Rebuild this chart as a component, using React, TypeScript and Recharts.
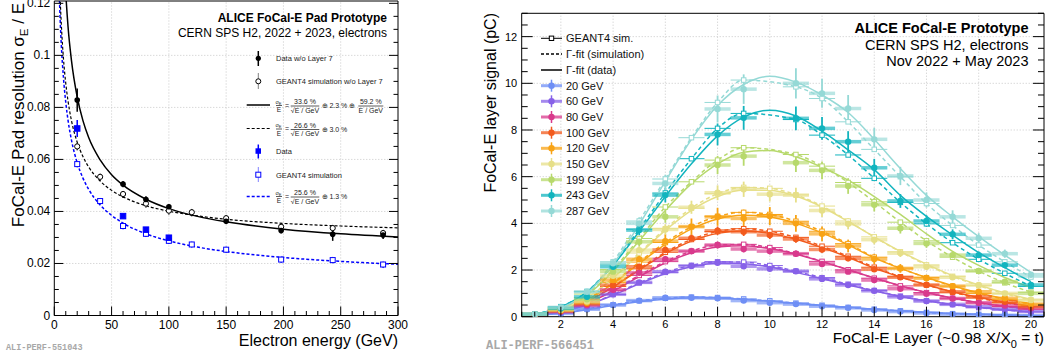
import React from "react";
import { ComposedChart, Line, Scatter, XAxis, YAxis, ErrorBar, ReferenceLine } from "recharts";

// ---------- left panel: energy resolution ----------
const resDataNoL7E = [20, 60, 80, 100, 150, 198, 243, 287];
const resDataNoL7 = [0.0828, 0.0505, 0.0446, 0.0418, 0.0362, 0.0327, 0.0312, 0.0309];
const resDataNoL7Err = [0.0045, 0.0012, 0.0012, 0.001, 0.001, 0.0012, 0.0025, 0.0015];
const resSimNoL7E = [20, 40, 60, 80, 100, 120, 150, 198, 243, 287];
const resSimNoL7 = [0.065, 0.0533, 0.0467, 0.043, 0.0403, 0.0397, 0.0374, 0.0341, 0.0336, 0.0317];
const resDataE = [20, 60, 80, 100];
const resData = [0.0719, 0.0382, 0.033, 0.0299];
const resDataErr = [0.0033, 0.0008, 0.0008, 0.0008];
const resSimE = [20, 40, 60, 80, 100, 120, 150, 198, 243, 287];
const resSim = [0.0582, 0.044, 0.0344, 0.0314, 0.0287, 0.0273, 0.0253, 0.0215, 0.0213, 0.0196];

// fit curves
const fitE = [4, 5, 6, 8, 10, 12, 15, 20, 25, 30, 40, 50, 60, 80, 100, 125, 150, 200, 250, 300];
const fitDataNoL7 = [0.225, 0.193, 0.171, 0.142, 0.124, 0.111, 0.098, 0.084, 0.0749, 0.0684, 0.0598, 0.0541, 0.0501, 0.0447, 0.0411, 0.0381, 0.036, 0.0332, 0.0314, 0.0302];
const fitSimNoL7 = [0.136, 0.123, 0.113, 0.0987, 0.0893, 0.0824, 0.0749, 0.0666, 0.0611, 0.0571, 0.0517, 0.0481, 0.0456, 0.0422, 0.0401, 0.0383, 0.037, 0.0354, 0.0344, 0.0337];
const fitSim = [0.129, 0.115, 0.105, 0.0914, 0.082, 0.075, 0.0674, 0.0587, 0.0528, 0.0485, 0.0425, 0.0385, 0.0355, 0.0314, 0.0287, 0.0263, 0.0246, 0.0223, 0.0208, 0.0197];

const resXMajor = [0, 50, 100, 150, 200, 250, 300];
const resYMajor = [0, 0.02, 0.04, 0.06, 0.08, 0.1, 0.12];

// ---------- right panel: longitudinal profiles ----------
const LAYERS = [1, 2, 3, 4, 5, 6, 7, 8, 9, 10, 11, 12, 13, 14, 15, 16, 17, 18, 19, 20];
const ENERGIES = [20, 60, 80, 100, 120, 150, 199, 243, 287];
const COLORS = ["#6f8ff5", "#8761e8", "#d8398c", "#f25a1c", "#f8a315", "#e6df88", "#b7d96c", "#12b4be", "#95d9d6"];
// relative vertical error per energy
const ERR_REL = [0.05, 0.05, 0.05, 0.05, 0.09, 0.06, 0.06, 0.06, 0.065];

const sig20 = [0.07, 0.14, 0.32, 0.5, 0.69, 0.81, 0.81, 0.79, 0.69, 0.6, 0.54, 0.45, 0.38, 0.29, 0.22, 0.16, 0.11, 0.08, 0.06, 0.04];
const fit20 = [0.06, 0.15, 0.3, 0.48, 0.64, 0.75, 0.8, 0.8, 0.74, 0.67, 0.58, 0.49, 0.4, 0.32, 0.25, 0.19, 0.14, 0.1, 0.07, 0.05];
const sim20 = [0.07, 0.16, 0.33, 0.51, 0.68, 0.79, 0.84, 0.82, 0.76, 0.68, 0.58, 0.49, 0.4, 0.32, 0.25, 0.18, 0.13, 0.1, 0.07, 0.05];

const sig60 = [0.08, 0.2, 0.45, 0.96, 1.47, 1.93, 2.17, 2.31, 2.16, 2.05, 1.95, 1.62, 1.36, 1.11, 0.85, 0.67, 0.53, 0.43, 0.33, 0.22];
const fit60 = [0.07, 0.22, 0.5, 0.92, 1.41, 1.84, 2.14, 2.29, 2.27, 2.13, 1.9, 1.63, 1.36, 1.1, 0.87, 0.68, 0.52, 0.39, 0.29, 0.21];
const sim60 = [0.08, 0.23, 0.52, 0.95, 1.45, 1.9, 2.2, 2.35, 2.34, 2.19, 1.95, 1.67, 1.39, 1.12, 0.88, 0.68, 0.52, 0.39, 0.29, 0.21];

const sig80 = [0.08, 0.22, 0.5, 1.15, 1.88, 2.46, 2.81, 3.07, 2.9, 2.81, 2.7, 2.26, 1.93, 1.57, 1.2, 0.98, 0.78, 0.6, 0.48, 0.36];
const fit80 = [0.07, 0.24, 0.58, 1.1, 1.72, 2.3, 2.74, 2.99, 3.04, 2.92, 2.68, 2.36, 2.01, 1.66, 1.33, 1.04, 0.8, 0.6, 0.45, 0.33];
const sim80 = [0.08, 0.25, 0.6, 1.13, 1.77, 2.36, 2.81, 3.07, 3.1, 2.96, 2.7, 2.37, 2.01, 1.65, 1.32, 1.03, 0.79, 0.59, 0.44, 0.32];

const sig100 = [0.09, 0.25, 0.55, 1.35, 2.14, 2.86, 3.36, 3.68, 3.64, 3.5, 3.33, 2.88, 2.5, 2.03, 1.69, 1.36, 1.07, 0.86, 0.64, 0.43];
const fit100 = [0.08, 0.27, 0.65, 1.27, 2.0, 2.7, 3.24, 3.57, 3.67, 3.57, 3.32, 2.96, 2.55, 2.08, 1.7, 1.37, 1.07, 0.83, 0.62, 0.45];
const sim100 = [0.09, 0.28, 0.67, 1.3, 2.05, 2.76, 3.31, 3.65, 3.77, 3.66, 3.4, 3.02, 2.59, 2.12, 1.71, 1.36, 1.05, 0.8, 0.6, 0.43];

const sig120 = [0.09, 0.27, 0.6, 1.57, 2.46, 3.24, 3.86, 4.28, 4.21, 4.31, 4.0, 3.55, 3.03, 2.47, 2.07, 1.65, 1.31, 1.07, 0.79, 0.54];
const fit120 = [0.08, 0.3, 0.72, 1.42, 2.28, 3.1, 3.76, 4.19, 4.35, 4.27, 4.0, 3.59, 3.08, 2.52, 2.07, 1.68, 1.33, 1.02, 0.77, 0.56];
const sim120 = [0.09, 0.31, 0.74, 1.46, 2.34, 3.18, 3.85, 4.3, 4.47, 4.38, 4.09, 3.66, 3.13, 2.55, 2.08, 1.67, 1.31, 1.0, 0.75, 0.54];

const sig150 = [0.1, 0.3, 0.65, 1.75, 2.85, 3.74, 4.69, 5.31, 5.46, 5.25, 5.21, 4.55, 3.98, 3.3, 2.72, 2.14, 1.69, 1.36, 1.0, 0.71];
const fit150 = [0.09, 0.33, 0.8, 1.65, 2.68, 3.7, 4.56, 5.15, 5.43, 5.42, 5.17, 4.7, 4.08, 3.42, 2.8, 2.25, 1.76, 1.36, 1.02, 0.75];
const sim150 = [0.1, 0.34, 0.82, 1.68, 2.73, 3.77, 4.65, 5.27, 5.54, 5.5, 5.22, 4.74, 4.1, 3.42, 2.78, 2.22, 1.73, 1.33, 0.99, 0.72];

const sig199 = [0.1, 0.33, 0.75, 1.93, 3.21, 4.28, null, 6.5, 6.88, null, 6.6, 6.27, 5.6, 4.8, 3.79, 3.14, 2.64, 1.96, 1.5, 1.0];
const fit199 = [0.1, 0.37, 0.93, 1.95, 3.25, 4.55, 5.7, 6.55, 7.05, 7.12, 6.85, 6.4, 5.85, 5.15, 4.38, 3.55, 2.8, 2.2, 1.68, 1.25];
const sim199 = [0.11, 0.38, 0.97, 2.02, 3.35, 4.7, 5.78, 6.71, 7.24, null, 6.95, 6.45, 5.75, 4.92, 4.05, 3.25, 2.55, 1.95, 1.45, 1.05];

const sig243 = [0.11, 0.36, 0.85, 2.14, 3.71, 5.21, null, 7.81, 8.52, null, 8.5, 8.07, 7.5, 6.38, 4.96, 4.1, 3.53, 2.64, 2.21, 1.36];
const fit243 = [0.1, 0.42, 1.05, 2.2, 3.65, 5.15, 6.55, 7.75, 8.55, 8.85, 8.6, 7.95, 7.15, 6.3, 5.2, 4.3, 3.5, 2.75, 2.1, 1.5];
const sim243 = [0.11, 0.43, 1.08, 2.25, 3.75, 5.3, 6.77, 8.07, 8.71, null, 8.45, 7.78, 6.93, 5.93, 4.9, 3.98, 3.17, 2.46, 1.86, 1.3];

const sig287 = [0.11, 0.4, 1.07, 2.29, 4.0, 5.71, null, 8.9, 9.75, null, 10.0, 9.57, 8.92, 7.6, 6.03, 5.0, 4.28, 3.36, 2.7, 1.8];
const fit287 = [0.1, 0.38, 1.0, 2.25, 3.95, 5.8, 7.6, 9.05, 9.95, 10.3, 10.05, 9.5, 8.75, 7.6, 6.35, 5.2, 4.28, 3.43, 2.64, 1.9];
const sim287 = [0.11, 0.4, 1.05, 2.35, 4.1, 5.9, 7.67, 9.18, 10.14, null, 9.85, 9.35, 8.35, 7.17, 6.0, 4.85, 3.91, 3.07, 2.35, 1.7];

const SIG = [sig20, sig60, sig80, sig100, sig120, sig150, sig199, sig243, sig287];
const FIT = [fit20, fit60, fit80, fit100, fit120, fit150, fit199, fit243, fit287];
const SIM = [sim20, sim60, sim80, sim100, sim120, sim150, sim199, sim243, sim287];

const layerXMajor = [2, 4, 6, 8, 10, 12, 14, 16, 18, 20];
const layerYMajor = [0, 2, 4, 6, 8, 10, 12];

const FONT = "'Liberation Sans', Arial, Helvetica, sans-serif";

// minor tick positions between major ones
function withMinor(lo: number, hi: number, step: number) {
  const out: number[] = [];
  const n = Math.round((hi - lo) / step);
  for (let i = 0; i <= n; i++) out.push(+(lo + i * step).toFixed(4));
  return out;
}

type TickOpts = {
  side: "bottom" | "top" | "left" | "right";
  major: number[];
  len: number;
  minor: number;
  font?: number;
  fmt?: (v: number) => string;
  dx?: number;
  dy?: number;
};

const mkTick = (o: TickOpts) => (props: any) => {
  const { x, y, payload } = props;
  const v = payload.value as number;
  const isMajor = o.major.some((m) => Math.abs(m - v) < 1e-6);
  const L = isMajor ? o.len : o.minor;
  let x2 = x;
  let y2 = y;
  if (o.side === "bottom") y2 = y - L;
  else if (o.side === "top") y2 = y + L;
  else if (o.side === "left") x2 = x + L;
  else x2 = x - L;
  return (
    <g>
      <line x1={x} y1={y} x2={x2} y2={y2} stroke="#000" strokeWidth={1} />
      {isMajor && o.fmt ? (
        <text
          x={x + (o.dx ?? 0)}
          y={y + (o.dy ?? 0)}
          textAnchor={o.side === "left" ? "end" : "middle"}
          fontSize={o.font}
          fill="#000"
        >
          {o.fmt(v)}
        </text>
      ) : null}
    </g>
  );
};

const fmtRes = (v: number) => (v === 0 ? "0" : String(parseFloat(v.toFixed(3))));
const fmtInt = (v: number) => String(v);

const dot = (r: number, fill: string) => (p: any) => <circle cx={p.cx} cy={p.cy} r={r} fill={fill} />;
const ring = (r: number, stroke: string) => (p: any) => (
  <circle cx={p.cx} cy={p.cy} r={r} fill="#fff" stroke={stroke} strokeWidth={1} />
);
const box = (s: number, fill: string, stroke: string) => (p: any) => (
  <rect x={p.cx - s / 2} y={p.cy - s / 2} width={s} height={s} fill={fill} stroke={stroke} strokeWidth={1} />
);

function pts(xs: number[], ys: (number | null)[], ex = 0, ey: number[] | number = 0) {
  return xs.flatMap((x, i) =>
    ys[i] == null ? [] : [{ x, y: ys[i] as number, ex, ey: Array.isArray(ey) ? ey[i] : ey }]
  );
}

// data points with error bars scaled by the relative error
function profilePts(ys: (number | null)[], rel: number) {
  return LAYERS.flatMap((x, i) =>
    ys[i] == null ? [] : [{ x, y: ys[i] as number, ex: 0.5, ey: (ys[i] as number) * rel }]
  );
}

function ResolutionChart() {
  const xTicks = withMinor(0, 300, 10);
  const yTicks = withMinor(0, 0.12, 0.005);
  const xs = { type: "number" as const, domain: [0, 300], allowDataOverflow: true, ticks: xTicks, interval: 0 as const, tickSize: 0, tickMargin: 0, axisLine: { stroke: "#000" } };
  const ys = { type: "number" as const, domain: [0, 0.1209], allowDataOverflow: true, ticks: yTicks, interval: 0 as const, tickSize: 0, tickMargin: 0, axisLine: { stroke: "#000" } };
  return (
    <ComposedChart width={420} height={362} margin={{ top: 0, right: 21, bottom: 45.5, left: 53.3 }}>
      <XAxis {...xs} dataKey="x" height={1} tick={mkTick({ side: "bottom", major: resXMajor, len: 9, minor: 4.5, font: 12, fmt: fmtInt, dy: 13 })} />
      <XAxis {...xs} xAxisId="top" orientation="top" height={1} tick={mkTick({ side: "top", major: resXMajor, len: 9, minor: 4.5 })} />
      <YAxis {...ys} dataKey="y" width={1} tick={mkTick({ side: "left", major: resYMajor, len: 9, minor: 4.5, font: 12, fmt: fmtRes, dx: -4, dy: 4 })} />
      <YAxis {...ys} yAxisId="right" orientation="right" width={1} tick={mkTick({ side: "right", major: resYMajor, len: 9, minor: 4.5 })} />
      {resXMajor.slice(1, -1).map((v) => (
        <ReferenceLine key={"gx" + v} x={v} stroke="#c8c8c8" strokeDasharray="1 2" />
      ))}
      {resYMajor.slice(1, -1).map((v) => (
        <ReferenceLine key={"gy" + v} y={v} stroke="#c8c8c8" strokeDasharray="1 2" />
      ))}
      <Line data={pts(fitE, fitSim)} dataKey="y" type="monotone" stroke="#0000ff" strokeWidth={1.5} strokeDasharray="3 2" dot={false} isAnimationActive={false} />
      <Line data={pts(fitE, fitSimNoL7)} dataKey="y" type="monotone" stroke="#000" strokeWidth={1.2} strokeDasharray="3 2" dot={false} isAnimationActive={false} />
      <Line data={pts(fitE, fitDataNoL7)} dataKey="y" type="monotone" stroke="#000" strokeWidth={1.5} dot={false} isAnimationActive={false} />
      <Scatter data={pts(resSimE, resSim, 0, 0.0012)} shape={box(5, "#fff", "#0000ff")} isAnimationActive={false}>
        <ErrorBar dataKey="ey" direction="y" width={0} stroke="#0000ff" strokeDasharray="1 1" isAnimationActive={false} />
      </Scatter>
      <Scatter data={pts(resDataE, resData, 0, resDataErr)} shape={box(5.5, "#0000ff", "#0000ff")} isAnimationActive={false}>
        <ErrorBar dataKey="ey" direction="y" width={0} stroke="#0000ff" strokeWidth={1.5} isAnimationActive={false} />
      </Scatter>
      <Scatter data={pts(resSimNoL7E, resSimNoL7, 0, 0.0015)} shape={ring(2.6, "#000")} isAnimationActive={false}>
        <ErrorBar dataKey="ey" direction="y" width={0} stroke="#000" strokeDasharray="1 1" isAnimationActive={false} />
      </Scatter>
      <Scatter data={pts(resDataNoL7E, resDataNoL7, 0, resDataNoL7Err)} shape={dot(2.8, "#000")} isAnimationActive={false}>
        <ErrorBar dataKey="ey" direction="y" width={0} stroke="#000" strokeWidth={1.5} isAnimationActive={false} />
      </Scatter>
    </ComposedChart>
  );
}

function ProfileChart() {
  const xTicks = withMinor(0.5, 20.5, 0.5);
  const yTicks = withMinor(0, 13, 0.5);
  const xs = { type: "number" as const, domain: [0.5, 20.5], allowDataOverflow: true, ticks: xTicks, interval: 0 as const, tickSize: 0, tickMargin: 0, axisLine: { stroke: "#000" } };
  const ys = { type: "number" as const, domain: [0, 13], allowDataOverflow: true, ticks: yTicks, interval: 0 as const, tickSize: 0, tickMargin: 0, axisLine: { stroke: "#000" } };
  return (
    <ComposedChart width={566} height={362} margin={{ top: 12.3, right: 1, bottom: 44.3, left: 40.7 }}>
      <XAxis {...xs} dataKey="x" height={1} tick={mkTick({ side: "bottom", major: layerXMajor, len: 10, minor: 5, font: 11, fmt: fmtInt, dy: 11.5 })} />
      <XAxis {...xs} xAxisId="top" orientation="top" height={1} tick={mkTick({ side: "top", major: layerXMajor, len: 10, minor: 5 })} />
      <YAxis {...ys} dataKey="y" width={1} tick={mkTick({ side: "left", major: layerYMajor, len: 11, minor: 6, font: 11, fmt: fmtInt, dx: -4.5, dy: 4 })} />
      <YAxis {...ys} yAxisId="right" orientation="right" width={1} tick={mkTick({ side: "right", major: layerYMajor, len: 11, minor: 6 })} />
      {layerXMajor.slice(0, -1).map((v) => (
        <ReferenceLine key={"gx" + v} x={v} stroke="#c8c8c8" strokeDasharray="1 2" />
      ))}
      {layerYMajor.slice(1).map((v) => (
        <ReferenceLine key={"gy" + v} y={v} stroke="#c8c8c8" strokeDasharray="1 2" />
      ))}
      {ENERGIES.map((e, k) => (
        <Scatter key={"sim" + e} data={pts(LAYERS, SIM[k], 0.5)} shape={box(4.5, "#fff", COLORS[k])} isAnimationActive={false}>
          <ErrorBar dataKey="ex" direction="x" width={0} stroke={COLORS[k]} strokeWidth={1} isAnimationActive={false} />
        </Scatter>
      ))}
      {ENERGIES.map((e, k) => (
        <Line key={"ls" + e} data={pts(LAYERS, SIM[k])} dataKey="y" type="monotone" connectNulls stroke={COLORS[k]} strokeWidth={1.5} strokeDasharray="4 3" dot={false} isAnimationActive={false} />
      ))}
      {ENERGIES.map((e, k) => (
        <Line key={"lf" + e} data={pts(LAYERS, FIT[k])} dataKey="y" type="monotone" stroke={COLORS[k]} strokeWidth={1.5} dot={false} isAnimationActive={false} />
      ))}
      {ENERGIES.map((e, k) => (
        <Scatter key={"d" + e} data={profilePts(SIG[k], ERR_REL[k])} shape={dot(3.2, COLORS[k])} isAnimationActive={false}>
          <ErrorBar dataKey="ex" direction="x" width={0} stroke={COLORS[k]} strokeWidth={3.5} strokeOpacity={0.65} isAnimationActive={false} />
          <ErrorBar dataKey="ey" direction="y" width={0} stroke={COLORS[k]} strokeWidth={1.8} isAnimationActive={false} />
        </Scatter>
      ))}
    </ComposedChart>
  );
}

function Frac({ x, y, w, num, den, fs = 7 }: { x: number; y: number; w: number; num: string; den: string; fs?: number }) {
  return (
    <g>
      <text x={x + w / 2} y={y - 1.8} fontSize={fs} textAnchor="middle">{num}</text>
      <line x1={x} x2={x + w} y1={y} y2={y} stroke="#333" strokeWidth={0.8} />
      <text x={x + w / 2} y={y + 6.8} fontSize={fs} textAnchor="middle">{den}</text>
    </g>
  );
}

function SigmaOverE({ y }: { y: number }) {
  return (
    <g>
      <text x={278.5} y={y - 2} fontSize={5.5} textAnchor="middle">σ<tspan fontSize={4} dy={1}>E</tspan></text>
      <line x1={276} x2={282} y1={y} y2={y} stroke="#333" strokeWidth={0.8} />
      <text x={279} y={y + 6.5} fontSize={6.5} textAnchor="middle">E</text>
      <text x={285} y={y + 2.3} fontSize={7}>=</text>
    </g>
  );
}

function Overlay() {
  const legRows = [38.3, 54, 70, 85.7, 101.3, 117, 132.7, 148.3, 164, 179.7, 195.3, 211];
  return (
    <svg width={1046} height={362} style={{ position: "absolute", left: 0, top: 0, pointerEvents: "none" }}>
      {/* left panel titles */}
      <text x={24} y={3} fontSize={17} textAnchor="end" transform="rotate(-90 24 3)">
        FoCal-E Pad resolution  σ<tspan fontSize={11.5} dy={4}>E</tspan><tspan dy={-4}> / E</tspan>
      </text>
      <text x={398} y={345.7} fontSize={16} textAnchor="end">Electron energy (GeV)</text>
      <text x={387} y={22} fontSize={12} fontWeight="bold" textAnchor="end">ALICE FoCal-E Pad Prototype</text>
      <text x={387} y={37} fontSize={12} textAnchor="end">CERN SPS H2, 2022 + 2023, electrons</text>
      <text x={6} y={350} fontSize={8.5} fontWeight="bold" fill="#a8a8a8" fontFamily="'Liberation Mono', 'DejaVu Sans Mono', monospace">ALI-PERF-551043</text>

      {/* left legend */}
      <g fontSize={7.5} fill="#222">
        <line x1={258.3} x2={258.3} y1={51} y2={66} stroke="#000" strokeWidth={1.5} />
        <circle cx={258.3} cy={58.3} r={2.6} fill="#000" />
        <text x={276} y={61}>Data w/o Layer 7</text>

        <line x1={258.3} x2={258.3} y1={73.5} y2={89} stroke="#000" strokeDasharray="1 1" />
        <circle cx={258.3} cy={81.3} r={2.5} fill="#fff" stroke="#000" />
        <text x={276} y={84}>GEANT4 simulation w/o Layer 7</text>

        <line x1={246.7} x2={270} y1={105} y2={105} stroke="#000" strokeWidth={1.5} />
        <SigmaOverE y={105.5} />
        <Frac x={290.7} y={106} w={28.6} num="33.6 %" den="√E / GeV" />
        <text x={321.5} y={108.3} fontSize={7}>⊕ 2.3 % ⊕</text>
        <Frac x={358.3} y={106} w={25} num="59.2 %" den="E / GeV" />

        <line x1={246.7} x2={270} y1={128.5} y2={128.5} stroke="#000" strokeDasharray="3 2" />
        <SigmaOverE y={129} />
        <Frac x={290.7} y={129.5} w={28.6} num="26.6 %" den="√E / GeV" />
        <text x={321.5} y={131.8} fontSize={7}>⊕ 3.0 %</text>

        <line x1={258.3} x2={258.3} y1={144.5} y2={158.5} stroke="#0000ff" strokeWidth={1.5} />
        <rect x={255.5} y={148.3} width={5.5} height={5.5} fill="#0000ff" />
        <text x={276} y={154}>Data</text>

        <line x1={258.3} x2={258.3} y1={167.5} y2={182} stroke="#0000ff" strokeDasharray="1 1" />
        <rect x={255.8} y={172.2} width={5} height={5} fill="#fff" stroke="#0000ff" />
        <text x={276} y={177.5}>GEANT4 simulation</text>

        <line x1={246.7} x2={270} y1={196.5} y2={196.5} stroke="#0000ff" strokeWidth={1.5} strokeDasharray="3 2" />
        <SigmaOverE y={196.5} />
        <Frac x={290.7} y={197} w={28.6} num="25.6 %" den="√E / GeV" />
        <text x={321.5} y={199.3} fontSize={7}>⊕ 1.3 %</text>
      </g>

      {/* right panel titles */}
      <text x={495.5} y={13} fontSize={16} textAnchor="end" transform="rotate(-90 495.5 13)">FoCal-E layer signal (pC)</text>
      <text x={1044} y={343} fontSize={15.5} textAnchor="end">
        FoCal-E Layer (~0.98 X/X<tspan fontSize={11} dy={5}>0</tspan><tspan dy={-5}> = t)</tspan>
      </text>
      <text x={1028.5} y={32.7} fontSize={14.5} fontWeight="bold" textAnchor="end">ALICE FoCal-E Prototype</text>
      <text x={1028.5} y={49.5} fontSize={14.5} textAnchor="end">CERN SPS H2, electrons</text>
      <text x={1028.5} y={66.3} fontSize={14.5} textAnchor="end">Nov 2022 + May 2023</text>
      <text x={486} y={349} fontSize={12} fontWeight="bold" fill="#a8a8a8" fontFamily="'Liberation Mono', 'DejaVu Sans Mono', monospace">ALI-PERF-566451</text>

      {/* right legend */}
      <g fontSize={11} fill="#111">
        <line x1={541} x2={562} y1={legRows[0]} y2={legRows[0]} stroke="#000" />
        <rect x={549.3} y={legRows[0] - 2.2} width={4.4} height={4.4} fill="#fff" stroke="#000" />
        <text x={566} y={legRows[0] + 4}>GEANT4 sim.</text>
        <line x1={541} x2={562} y1={legRows[1]} y2={legRows[1]} stroke="#000" strokeWidth={1.5} strokeDasharray="3 2" />
        <text x={566} y={legRows[1] + 4}>Γ-fit (simulation)</text>
        <line x1={541} x2={562} y1={legRows[2]} y2={legRows[2]} stroke="#000" strokeWidth={1.5} />
        <text x={566} y={legRows[2] + 4}>Γ-fit (data)</text>
        {ENERGIES.map((e, k) => {
          const y = legRows[3 + k];
          return (
            <g key={"leg" + e}>
              <line x1={541} x2={562} y1={y} y2={y} stroke={COLORS[k]} strokeWidth={3} strokeOpacity={0.75} />
              <line x1={551.5} x2={551.5} y1={y - 6} y2={y + 6} stroke={COLORS[k]} strokeWidth={1.5} />
              <circle cx={551.5} cy={y} r={3.2} fill={COLORS[k]} />
              <text x={566} y={y + 4}>{e} GeV</text>
            </g>
          );
        })}
      </g>
    </svg>
  );
}

export default function App() {
  return (
    <div style={{ position: "absolute", left: 0, top: 0, width: 1046, height: 362, background: "#fff", fontFamily: FONT, overflow: "hidden" }}>
      <div style={{ position: "absolute", left: 0, top: 0 }}>
        <ResolutionChart />
      </div>
      <div style={{ position: "absolute", left: 480, top: 0 }}>
        <ProfileChart />
      </div>
      <Overlay />
    </div>
  );
}
